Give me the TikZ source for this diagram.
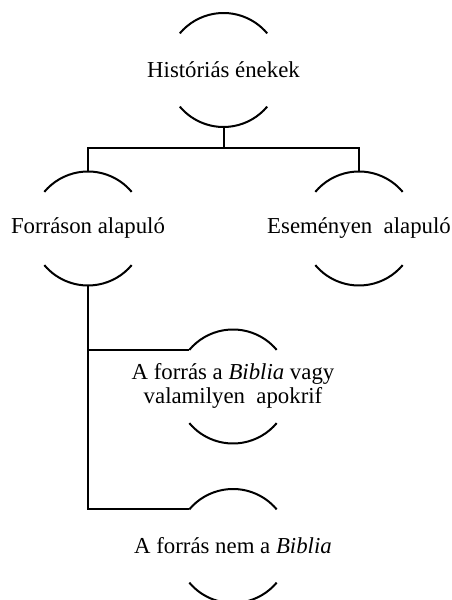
\documentclass[tikz,border=0pt]{standalone}
\usepackage{fontspec}
\setmainfont{Liberation Serif}
\begin{document}
\begin{tikzpicture}[x=1pt,y=1pt,
  cat/.style={circle,minimum size=114pt,inner sep=0pt,outer sep=0pt,
    font=\fontsize{22.8}{24.5}\selectfont},
  ln/.style={line width=2pt,line cap=butt}]
\useasboundingbox (0,0) rectangle (452,600);
\newcommand{\arcpair}[1]{%
  \draw[ln] (#1.40) arc[start angle=40,end angle=140,radius=57pt];
  \draw[ln] (#1.220) arc[start angle=220,end angle=320,radius=57pt];}
\node[cat] (a) at (223.5,530) {\makebox[0pt]{Históriás énekek}};
\node[cat] (b) at (88,371.5) {\makebox[0pt]{Forráson alapuló}};
\node[cat] (c) at (359,371.5) {\makebox[0pt]{Eseményen\ \ alapuló}};
\node[cat] (d) at (233,213.5) {\makebox[0pt]{\begin{tabular}{@{}c@{}}A forrás a \textit{Biblia} vagy\\valamilyen\ \ apokrif\end{tabular}}};
\node[cat] (e) at (233,54) {\makebox[0pt]{A forrás nem a \textit{Biblia}}};
\arcpair{a}\arcpair{b}\arcpair{c}\arcpair{d}\arcpair{e}
\coordinate (j) at (223.5,452);
\coordinate (jd) at (b.south |- d.140);
\coordinate (je) at (b.south |- e.140);
\draw[ln] (a.south) -- (j);
\draw[ln] (b.north) |- (j) -| (c.north);
\draw[ln,line join=miter] (b.south) -- (je) -- (e.140);
\draw[ln] (jd) -- (d.140);
\end{tikzpicture}
\end{document}
